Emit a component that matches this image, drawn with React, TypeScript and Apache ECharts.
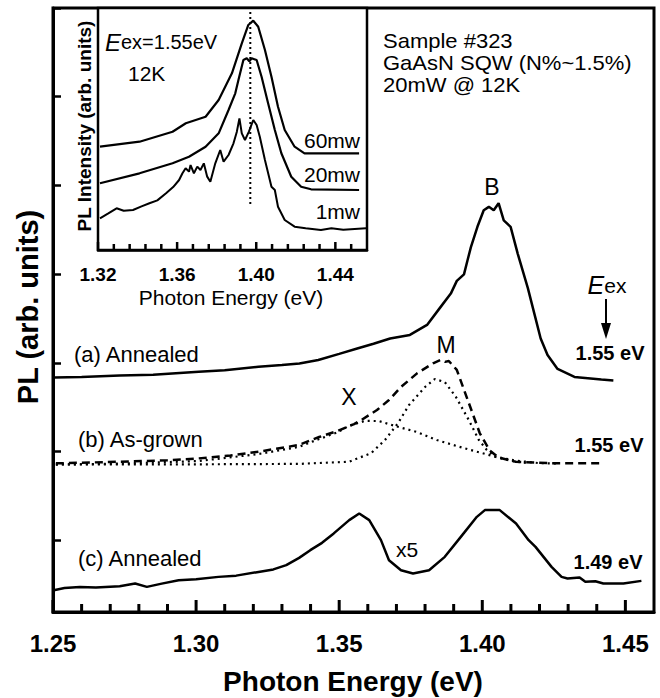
import React, { useEffect, useRef } from "react";
import * as echarts from "echarts";

const FONT = "'Liberation Sans', Arial, Helvetica, sans-serif";

// ---- axis scales (eV) ----
const mainXRange = [1.25, 1.46];
const mainXMajorStep = 0.05;
const mainYRange = [-0.81, 6];
const mainXMajorTicks = [1.25, 1.3, 1.35, 1.4, 1.45];
const mainXMinorTicks = [1.26, 1.27, 1.28, 1.29, 1.31, 1.32, 1.33, 1.34, 1.36, 1.37, 1.38, 1.39, 1.41, 1.42, 1.43, 1.44];
const mainYTicks = [0, 1, 2, 3, 4, 5, 6];
const insetXRange = [1.32, 1.456];
const insetYRange = [0, 10];
const insetXMajorStep = 0.04;
const insetXMajorTicks = [1.32, 1.36, 1.4, 1.44];
const insetXMinorTicks = [1.328, 1.336, 1.344, 1.352, 1.368, 1.376, 1.384, 1.392, 1.408, 1.416, 1.424, 1.432, 1.448];

// ---- main panel spectra: [photon energy (eV), PL (arb. units, offset)] ----
const annealedA = [
  [1.2503, 1.834], [1.26, 1.84], [1.2733, 1.857], [1.285, 1.865], [1.3009, 1.9], [1.31, 1.915],
  [1.3218, 1.956], [1.33, 1.975], [1.3361, 1.992], [1.3427, 2.032], [1.35, 2.1], [1.3563, 2.161],
  [1.362, 2.215], [1.3678, 2.274], [1.3747, 2.314], [1.3807, 2.427], [1.3852, 2.619], [1.389, 2.78],
  [1.3911, 2.923], [1.3936, 2.997], [1.3948, 3.15], [1.396, 3.301], [1.3983, 3.533], [1.4005, 3.719],
  [1.4023, 3.758], [1.404, 3.719], [1.4057, 3.799], [1.4075, 3.605], [1.4099, 3.533], [1.4124, 3.228],
  [1.4159, 2.844], [1.4183, 2.54], [1.4204, 2.274], [1.4228, 2.088], [1.4263, 1.93], [1.4322, 1.84],
  [1.4416, 1.811], [1.4458, 1.8],
];
const asGrownB = [
  [1.251, 0.866], [1.2733, 0.884], [1.29, 0.9], [1.3009, 0.922], [1.312, 0.955], [1.3218, 0.997],
  [1.3357, 1.072], [1.343, 1.163], [1.3493, 1.23], [1.3552, 1.309], [1.3577, 1.354], [1.3632, 1.467],
  [1.3674, 1.58], [1.3716, 1.727], [1.3772, 1.881], [1.3828, 1.994], [1.3855, 2.032], [1.387, 2.01],
  [1.3883, 2.02], [1.3911, 1.919], [1.3953, 1.546], [1.3991, 1.208], [1.4026, 1.01], [1.4057, 0.931],
  [1.4117, 0.884], [1.4256, 0.866], [1.4423, 0.866],
];
const fitX = [
  [1.251, 0.852], [1.2733, 0.863], [1.3009, 0.892], [1.3218, 0.971], [1.3357, 1.05], [1.343, 1.14],
  [1.3493, 1.215], [1.3535, 1.29], [1.3591, 1.345], [1.3639, 1.343], [1.3702, 1.281], [1.3772, 1.219],
  [1.3841, 1.129], [1.3911, 1.061], [1.3981, 0.997], [1.4047, 0.94], [1.4117, 0.897], [1.4197, 0.869],
  [1.4267, 0.863],
];
const fitM = [
  [1.251, 0.855], [1.3012, 0.855], [1.3361, 0.86], [1.3535, 0.884], [1.3612, 0.982], [1.366, 1.129],
  [1.3706, 1.321], [1.3744, 1.524], [1.38, 1.727], [1.3834, 1.817], [1.3869, 1.783], [1.3908, 1.614],
  [1.3953, 1.354], [1.3988, 1.129], [1.4016, 1.016], [1.4047, 0.937], [1.4117, 0.884], [1.4162, 0.869],
];
const annealedC = [
  [1.2503, -0.564], [1.254, -0.54], [1.2594, -0.527], [1.265, -0.535], [1.2733, -0.519], [1.2787, -0.489],
  [1.2828, -0.527], [1.288, -0.49], [1.2939, -0.451], [1.3, -0.44], [1.3078, -0.414], [1.314, -0.4],
  [1.3218, -0.358], [1.327, -0.33], [1.3315, -0.282], [1.336, -0.2], [1.3399, -0.113], [1.344, -0.03],
  [1.3481, 0.076], [1.3535, 0.226], [1.357, 0.301], [1.3605, 0.226], [1.3646, 0.0], [1.3674, -0.226],
  [1.3716, -0.339], [1.3758, -0.376], [1.3814, -0.339], [1.3869, -0.188], [1.3925, 0.037], [1.3981, 0.263],
  [1.4009, 0.339], [1.4061, 0.339], [1.4118, 0.188], [1.4162, 0.0], [1.4186, -0.076], [1.4242, -0.301],
  [1.4277, -0.414], [1.4298, -0.432], [1.434, -0.421], [1.436, -0.47], [1.4395, -0.463], [1.4423, -0.489],
  [1.4493, -0.489], [1.4556, -0.459],
];

// ---- inset spectra: [photon energy (eV), PL intensity (arb. units)] ----
const inset60mw = [
  [1.321, 4.269], [1.341, 4.475], [1.3577, 4.888], [1.3644, 5.236], [1.3744, 5.508], [1.381, 6.198],
  [1.3877, 7.302], [1.3927, 8.541], [1.396, 9.298], [1.3985, 9.475], [1.401, 9.227], [1.4044, 8.264],
  [1.4077, 7.161], [1.411, 5.921], [1.4144, 4.959], [1.4194, 4.269], [1.4244, 3.996], [1.452, 3.996],
];
const inset20mw = [
  [1.321, 2.756], [1.341, 3.169], [1.3577, 3.583], [1.366, 3.855], [1.3744, 4.269], [1.381, 4.822],
  [1.386, 5.785], [1.3894, 6.475], [1.391, 7.025], [1.3935, 7.851], [1.3952, 7.921], [1.3965, 7.8],
  [1.3977, 7.921], [1.4002, 7.851], [1.4027, 7.161], [1.406, 6.062], [1.4094, 4.959], [1.4127, 3.996],
  [1.4177, 3.029], [1.4227, 2.616], [1.4277, 2.508], [1.452, 2.479],
];
const inset1mw = [
  [1.321, 1.31], [1.325, 1.5], [1.3294, 1.723], [1.333, 1.62], [1.3377, 1.653], [1.342, 1.8],
  [1.346, 1.93], [1.35, 2.05], [1.3544, 2.343], [1.358, 2.6], [1.361, 2.893], [1.3627, 3.169],
  [1.3643, 3.375], [1.366, 3.237], [1.3668, 3.512], [1.3685, 3.169], [1.3702, 3.444], [1.3718, 3.306],
  [1.3735, 3.581], [1.3752, 3.031], [1.3768, 2.824], [1.3793, 3.581], [1.3818, 4.132], [1.3835, 3.65],
  [1.386, 3.926], [1.3885, 4.408], [1.3902, 4.89], [1.3915, 5.44], [1.3927, 4.82], [1.3943, 4.545],
  [1.3963, 4.89], [1.3985, 5.372], [1.4002, 5.165], [1.4018, 4.683], [1.4044, 3.719], [1.4077, 2.616],
  [1.4094, 2.479], [1.411, 1.789], [1.4144, 1.24], [1.4194, 0.963], [1.425, 0.9], [1.4327, 0.826],
  [1.438, 0.9], [1.444, 0.84], [1.4555, 0.897],
];
const insetPeakLine = [[1.397, 1.9], [1.397, 9.9]];

export default function App() {
  const ref = useRef<HTMLDivElement>(null);
  useEffect(() => {
    if (!ref.current) return;
    const chart = echarts.init(ref.current, null, { renderer: "svg" });
    const black = "#000";
    const lineSeries = (data: number[][], xi: number, yi: number, type: any, width = 2.5) => ({
      type: "line",
      data,
      xAxisIndex: xi,
      yAxisIndex: yi,
      symbol: "none",
      showSymbol: false,
      silent: true,
      lineStyle: { color: black, width, type },
      emphasis: { disabled: true },
    });
    const txt = (text: string, x: number, y: number, size: number, opts: any = {}) => ({
      type: "text",
      x,
      y,
      z: 50,
      rotation: opts.rotation || 0,
      scaleX: opts.scaleX || 1,
      style: {
        text,
        fill: black,
        font: `${opts.italic ? "italic " : ""}${opts.bold ? "bold " : ""}${size}px ${FONT}`,
        align: opts.align || "left",
        verticalAlign: "middle",
      },
    });
    const xAxisDef = (grid: number, range: number[], step: number, width: number, label: any) => ({
      gridIndex: grid,
      type: "value",
      min: range[0],
      max: range[1],
      interval: step,
      position: "bottom",
      axisLine: { show: true, onZero: false, lineStyle: { color: black, width } },
      axisTick: { show: false },
      axisLabel: {
        show: true, showMaxLabel: false, showMinLabel: true,
        formatter: (v: number) => v.toFixed(2),
        fontSize: label.size, fontWeight: "bold", color: black, fontFamily: FONT, margin: label.margin,
      },
      splitLine: { show: false },
    });
    const option: any = {
      animation: false,
      backgroundColor: "#fff",
      grid: [
        { left: 53, top: 8, width: 601, height: 604, show: true, borderColor: black, borderWidth: 3, backgroundColor: "transparent" },
        { left: 98, top: 8, width: 269, height: 242, show: true, borderColor: black, borderWidth: 2.5, backgroundColor: "#fff" },
      ],
      xAxis: [
        xAxisDef(0, mainXRange, mainXMajorStep, 3, { size: 24, margin: 19 }),
        xAxisDef(1, insetXRange, insetXMajorStep, 2.5, { size: 19, margin: 15 }),
      ],
      yAxis: [
        {
          gridIndex: 0, type: "value", min: mainYRange[0], max: mainYRange[1],
          axisLine: { show: true, onZero: false, lineStyle: { color: black, width: 3 } },
          axisTick: { show: true, inside: true, length: 8, customValues: mainYTicks, lineStyle: { color: black, width: 2.5 } },
          axisLabel: { show: false },
          splitLine: { show: false },
        },
        {
          gridIndex: 1, type: "value", min: insetYRange[0], max: insetYRange[1],
          axisLine: { show: false, onZero: false },
          axisTick: { show: false },
          axisLabel: { show: false },
          splitLine: { show: false },
        },
      ],
      series: [
        lineSeries(annealedA, 0, 0, "solid"),
        lineSeries(asGrownB, 0, 0, [8, 5]),
        lineSeries(fitX, 0, 0, [2, 4], 2.2),
        lineSeries(fitM, 0, 0, [2, 4], 2.2),
        lineSeries(annealedC, 0, 0, "solid"),
        lineSeries(inset60mw, 1, 1, "solid", 2.2),
        lineSeries(inset20mw, 1, 1, "solid", 2.2),
        lineSeries(inset1mw, 1, 1, "solid", 2),
        lineSeries(insetPeakLine, 1, 1, [2, 3], 2),
      ],
    };
    chart.setOption(option);

    // inward x-axis ticks, positioned through the axes' own scales
    const tickLines = (ticks: number[], xi: number, yi: number, yBottom: number, len: number, w: number) =>
      ticks.map((v) => {
        const p = chart.convertToPixel({ xAxisIndex: xi, yAxisIndex: yi }, [v, yBottom]) as number[];
        return {
          type: "rect",
          z: 60,
          silent: true,
          shape: { x: p[0] - w / 2, y: p[1] - len, width: w, height: len },
          style: { fill: black },
        };
      });

    const graphic: any[] = [
      ...tickLines(mainXMajorTicks, 0, 0, mainYRange[0], 12, 3),
      ...tickLines(mainXMinorTicks, 0, 0, mainYRange[0], 8, 3),
      ...tickLines(insetXMajorTicks, 1, 1, insetYRange[0], 8, 2.5),
      ...tickLines(insetXMinorTicks, 1, 1, insetYRange[0], 6, 2.5),
      txt("Sample #323", 383, 41, 20, { scaleX: 1.1 }),
      txt("GaAsN SQW (N%~1.5%)", 383, 63, 20, { scaleX: 1.1 }),
      txt("20mW @ 12K", 383, 85, 20, { scaleX: 1.1 }),
      txt("B", 492, 187, 23, { align: "center" }),
      {
        type: "text", x: 607, y: 285, z: 50,
        style: {
          text: "{e|E}{s|ex}", align: "center", verticalAlign: "middle", fill: black,
          rich: {
            e: { font: `italic 25px ${FONT}`, fill: black },
            s: { font: `21px ${FONT}`, fill: black },
          },
        },
      },
      { type: "line", z: 50, shape: { x1: 606, y1: 299, x2: 606, y2: 330 }, style: { stroke: black, lineWidth: 2 } },
      { type: "polygon", z: 50, shape: { points: [[601, 323], [611, 323], [606, 339]] }, style: { fill: black } },
      txt("1.55 eV", 610, 353, 20, { bold: true, align: "center" }),
      txt("(a) Annealed", 74, 354, 22),
      txt("M", 446, 345, 23, { align: "center" }),
      txt("X", 349, 397, 23, { align: "center" }),
      txt("(b) As-grown", 78, 439, 22),
      txt("1.55 eV", 609, 445, 20, { bold: true, align: "center" }),
      txt("(c) Annealed", 78, 558, 22),
      txt("x5", 407, 549, 21, { align: "center" }),
      txt("1.49 eV", 608, 562, 20, { bold: true, align: "center" }),
      txt("PL (arb. units)", 28, 307, 29, { bold: true, align: "center", rotation: Math.PI / 2 }),
      txt("Photon Energy (eV)", 353, 681, 28, { bold: true, align: "center" }),
      {
        type: "text", x: 105, y: 42, z: 50,
        style: {
          text: "{e|E}{s|ex=1.55eV}", align: "left", verticalAlign: "middle", fill: black,
          rich: {
            e: { font: `italic 24px ${FONT}`, fill: black },
            s: { font: `20px ${FONT}`, fill: black },
          },
        },
      },
      txt("12K", 128, 73, 21),
      txt("60mw", 360, 140, 21, { align: "right" }),
      txt("20mw", 360, 174, 21, { align: "right" }),
      txt("1mw", 360, 211, 21, { align: "right" }),
      txt("PL Intensity (arb. units)", 84, 126, 19, { bold: true, align: "center", rotation: Math.PI / 2 }),
      txt("Photon Energy (eV)", 231, 297, 21, { align: "center" }),
    ];
    chart.setOption({ graphic });
    return () => chart.dispose();
  }, []);
  return (
    <div
      ref={ref}
      style={{ position: "absolute", left: 0, top: 0, width: 660, height: 698, background: "#fff" }}
    />
  );
}
